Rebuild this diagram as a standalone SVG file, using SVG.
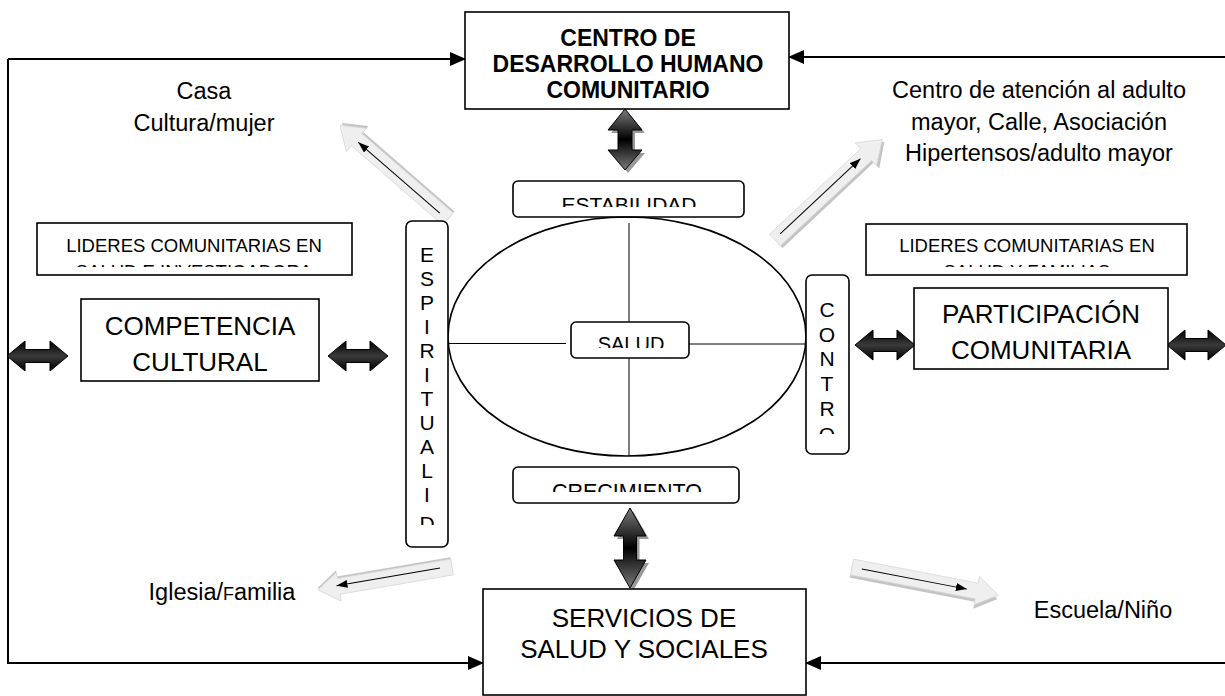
<svg xmlns="http://www.w3.org/2000/svg" width="1225" height="696" viewBox="0 0 1225 696">
<style>
text{font-family:"Liberation Sans",Arial,sans-serif;fill:#000}
.box{fill:#fff;stroke:#000;stroke-width:1.6}
.rbox{fill:#fff;stroke:#000;stroke-width:1.6}
.conn{fill:none;stroke:#000;stroke-width:2}
.thin{fill:none;stroke:#000;stroke-width:1}
.lbl{font-size:23.5px;text-anchor:middle}
.big{font-size:26px;text-anchor:middle}
.mid{font-size:18.5px;text-anchor:middle}
.vt{font-size:21px;text-anchor:middle}
.blk{fill:#efefef;stroke:#d8d8d8;stroke-width:0.8}
.sh{fill:#c4c4c4}
.dbl{stroke:#000;stroke-width:1}
.dsh{fill:#9a9a9a}
</style>
<defs>
<marker id="ah" markerUnits="userSpaceOnUse" markerWidth="16" markerHeight="14" refX="15" refY="7" orient="auto"><path d="M0,0 L16,7 L0,14 z" fill="#000"/></marker>
<marker id="ta" markerUnits="userSpaceOnUse" markerWidth="11" markerHeight="8" refX="11" refY="4" orient="auto"><path d="M0,0 L11,4 L0,8 z" fill="#000"/></marker>
<linearGradient id="gv" x1="0" y1="0" x2="0" y2="1"><stop offset="0" stop-color="#7a7a7a"/><stop offset="0.5" stop-color="#000"/><stop offset="1" stop-color="#7a7a7a"/></linearGradient>
<linearGradient id="gh" x1="0" y1="0" x2="0" y2="1"><stop offset="0" stop-color="#000"/><stop offset="0.5" stop-color="#3a3a3a"/><stop offset="1" stop-color="#000"/></linearGradient>
<clipPath id="cEst"><rect x="513" y="181" width="231" height="26"/></clipPath>
<clipPath id="cSal"><rect x="571" y="322" width="118" height="26"/></clipPath>
<clipPath id="cCre"><rect x="513" y="467" width="226" height="25"/></clipPath>
<clipPath id="cEsp"><rect x="406" y="221" width="42" height="304"/></clipPath>
<clipPath id="cCon"><rect x="806" y="275" width="43" height="159"/></clipPath>
<clipPath id="cLl"><rect x="37" y="223" width="315" height="44"/></clipPath>
<clipPath id="cLr"><rect x="866" y="224" width="321" height="43"/></clipPath>
</defs>

<g id="connectors">
<polyline class="conn" points="8,59 8,663 483,663" marker-end="url(#ah)"/>
<line class="conn" x1="8" y1="59" x2="465" y2="59" marker-end="url(#ah)"/>
<line class="conn" x1="1225" y1="57" x2="789" y2="57" marker-end="url(#ah)"/>
<line class="conn" x1="1225" y1="663" x2="806" y2="663" marker-end="url(#ah)"/>
<!-- vertical double arrows -->
<polygon class="dsh" transform="translate(3,3)" points="625,109 642,130 632,130 632,150 642,150 625,170 608,150 618,150 618,130 608,130"/>
<polygon class="dbl" fill="url(#gv)" points="625,109 642,130 632,130 632,150 642,150 625,170 608,150 618,150 618,130 608,130"/>
<polygon class="dsh" transform="translate(3,3)" points="630,508 646,536 636.5,536 636.5,560 646,560 630,588 614,560 623.5,560 623.5,536 614,536"/>
<polygon class="dbl" fill="url(#gv)" points="630,508 646,536 636.5,536 636.5,560 646,560 630,588 614,560 623.5,560 623.5,536 614,536"/>
<!-- horizontal double arrows -->
<polygon class="dbl" fill="url(#gh)" points="7,356 25,341 25,349.5 50,349.5 50,341 68,356 50,371 50,362.5 25,362.5 25,371"/>
<polygon class="dbl" fill="url(#gh)" points="328,356 346,341 346,349.5 370,349.5 370,341 388,356 370,371 370,362.5 346,362.5 346,371"/>
<polygon class="dbl" fill="url(#gh)" points="855,345 873,330 873,338.5 897,338.5 897,330 915,345 897,360 897,351.5 873,351.5 873,360"/>
<polygon class="dbl" fill="url(#gh)" points="1167,345 1185,330 1185,338.5 1208,338.5 1208,330 1226,345 1208,360 1208,351.5 1185,351.5 1185,360"/>
<!-- light block arrows -->
<g transform="translate(448,219) rotate(221)">
<polygon class="sh" points="0,-5 121,-5 121,-13 143,3 121,18 121,10 0,10"/>
<polygon class="blk" points="0,-8 121,-8 121,-16 143,0 121,15 121,8 0,8"/>
<line class="thin" x1="10" y1="-1" x2="118" y2="-1" marker-end="url(#ta)"/>
</g>
<g transform="translate(775,240) rotate(-43.1)">
<polygon class="sh" points="0,-4 125,-4 125,-12 147,3 125,19 125,11 0,11"/>
<polygon class="blk" points="0,-8 125,-8 125,-16 147,0 125,15 125,8 0,8"/>
<line class="thin" x1="8" y1="-1" x2="118" y2="-1" marker-end="url(#ta)"/>
</g>
<g transform="translate(452,567) rotate(170.3)">
<polygon class="sh" points="0,-5 115,-5 115,-12 136,2 115,16 115,10 0,10"/>
<polygon class="blk" points="0,-8 115,-8 115,-15 136,0 115,14 115,8 0,8"/>
<line class="thin" x1="12" y1="1" x2="117" y2="1" marker-end="url(#ta)"/>
</g>
<g transform="translate(852,567) rotate(10.9)">
<polygon class="sh" points="0,-3 127,-3 127,-9 149,4 127,18 127,11 0,11"/>
<polygon class="blk" points="0,-8 127,-8 127,-15 149,0 127,14 127,8 0,8"/>
<line class="thin" x1="10" y1="0" x2="117" y2="0" marker-end="url(#ta)"/>
</g>
</g>

<g id="centro">
<rect class="box" x="465" y="12" width="324" height="97"/>
<text x="628" y="46" font-size="23" font-weight="bold" text-anchor="middle">CENTRO DE</text>
<text x="628" y="72" font-size="23" font-weight="bold" text-anchor="middle">DESARROLLO HUMANO</text>
<text x="628" y="98" font-size="23" font-weight="bold" text-anchor="middle">COMUNITARIO</text>
</g>

<g id="servicios">
<rect class="box" x="483" y="589" width="323" height="106"/>
<text class="big" x="644" y="627">SERVICIOS DE</text>
<text class="big" x="644" y="658">SALUD Y SOCIALES</text>
</g>

<g id="estabilidad">
<rect class="rbox" x="513" y="181" width="231" height="36" rx="5"/>
<text x="629" y="212" font-size="21" text-anchor="middle" clip-path="url(#cEst)">ESTABILIDAD</text>
</g>

<g id="ellipse">
<ellipse cx="627" cy="336.5" rx="179" ry="119.5" fill="none" stroke="#000" stroke-width="1.6"/>
<line class="thin" stroke-width="1.6" x1="629" y1="223" x2="629" y2="322"/>
<line class="thin" stroke-width="1.6" x1="629" y1="358" x2="629" y2="456"/>
<line class="thin" stroke-width="1.6" x1="448" y1="343.5" x2="566" y2="343.5"/>
<line class="thin" stroke-width="1.6" x1="689" y1="344" x2="806" y2="344"/>
</g>

<g id="salud">
<rect class="rbox" x="571" y="322" width="118" height="36" rx="5"/>
<text x="631" y="351" font-size="20" text-anchor="middle" clip-path="url(#cSal)">SALUD</text>
</g>

<g id="crecimiento">
<rect class="rbox" x="513" y="467" width="226" height="36" rx="5"/>
<text x="627" y="498.5" font-size="21.5" text-anchor="middle" clip-path="url(#cCre)">CRECIMIENTO</text>
</g>

<g id="espiritualidad">
<rect class="rbox" x="406" y="221" width="42" height="326" rx="6"/>
<g clip-path="url(#cEsp)">
<text class="vt" x="427" y="262">E</text>
<text class="vt" x="427" y="286">S</text>
<text class="vt" x="427" y="310">P</text>
<text class="vt" x="427" y="334">I</text>
<text class="vt" x="427" y="358">R</text>
<text class="vt" x="427" y="382">I</text>
<text class="vt" x="427" y="406">T</text>
<text class="vt" x="427" y="430">U</text>
<text class="vt" x="427" y="454">A</text>
<text class="vt" x="427" y="478">L</text>
<text class="vt" x="427" y="502">I</text>
<text class="vt" x="427" y="531">D</text>
</g>
</g>

<g id="control">
<rect class="rbox" x="806" y="275" width="43" height="179" rx="6"/>
<g clip-path="url(#cCon)">
<text class="vt" x="827" y="317">C</text>
<text class="vt" x="827" y="342">O</text>
<text class="vt" x="827" y="366">N</text>
<text class="vt" x="827" y="391">T</text>
<text class="vt" x="827" y="416">R</text>
<text class="vt" x="827" y="442">O</text>
</g>
</g>

<g id="lideres-izq">
<rect class="box" x="37" y="223" width="315" height="52"/>
<g clip-path="url(#cLl)">
<text class="mid" x="194" y="252">LIDERES COMUNITARIAS EN</text>
<text class="mid" x="194" y="278">SALUD E INVESTIGADORA</text>
</g>
</g>

<g id="lideres-der">
<rect class="box" x="866" y="224" width="321" height="51"/>
<g clip-path="url(#cLr)">
<text class="mid" x="1027" y="252">LIDERES COMUNITARIAS EN</text>
<text class="mid" x="1027" y="278">SALUD Y FAMILIAS</text>
</g>
</g>

<g id="competencia">
<rect class="box" x="81" y="299" width="238" height="82"/>
<text class="big" x="200" y="335">COMPETENCIA</text>
<text class="big" x="200" y="371">CULTURAL</text>
</g>

<g id="participacion">
<rect class="box" x="914" y="288" width="254" height="81"/>
<text class="big" x="1041" y="323">PARTICIPACIÓN</text>
<text class="big" x="1041" y="359">COMUNITARIA</text>
</g>

<g id="casa">
<text class="lbl" x="204" y="99">Casa</text>
<text class="lbl" x="204" y="131">Cultura/mujer</text>
</g>

<g id="adulto">
<text class="lbl" x="1039" y="98">Centro de atención al adulto</text>
<text class="lbl" x="1039" y="130">mayor, Calle, Asociación</text>
<text class="lbl" x="1039" y="161">Hipertensos/adulto mayor</text>
</g>

<g id="iglesia">
<text x="222" y="600" font-size="23.5" text-anchor="middle">Iglesia/<tspan font-size="18">F</tspan>amilia</text>
</g>

<g id="escuela">
<text x="1103" y="618" font-size="23.5" text-anchor="middle">Escuela/Niño</text>
</g>
</svg>
